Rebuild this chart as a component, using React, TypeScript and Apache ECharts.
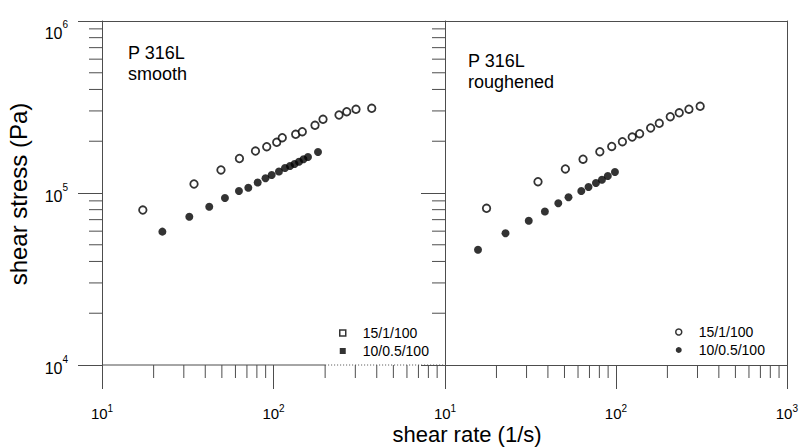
import React, { useEffect, useRef } from 'react';
import * as echarts from 'echarts';

// ---- data (shear rate in 1/s, shear stress in Pa) ----
const smoothOpenX = [17.3, 34.4, 49.4, 63.3, 78.5, 91.3, 104.4, 112.5, 134.7, 147.2, 174.6, 194.4, 241, 267.3, 302.7, 373.9];
const smoothOpenY = [79600, 112800, 136100, 158700, 175400, 185900, 197100, 209700, 219500, 227200, 247500, 268200, 284100, 296900, 306600, 310800];

const smoothFilledX = [22.5, 32.3, 42.2, 52.1, 62.9, 71.3, 80.9, 89.8, 97.6, 107.6, 116.7, 124.8, 132.6, 140.8, 149.6, 158.9, 181.8];
const smoothFilledY = [59600, 72800, 83200, 93500, 102700, 107400, 115100, 121800, 127300, 133400, 139800, 143500, 147400, 152000, 157000, 162000, 173100];

const roughOpenX = [17.5, 35.0, 50.6, 64.2, 80.5, 94.5, 109.1, 124.5, 137.6, 159.6, 179.3, 207.9, 234.6, 267.3, 311];
const roughOpenY = [81500, 116300, 137900, 157200, 173800, 186400, 198700, 211600, 221200, 238800, 254200, 277700, 292600, 307000, 319300];

const roughFilledX = [15.6, 22.6, 30.9, 38.4, 46.0, 52.8, 62.7, 69.1, 76.4, 82.8, 89.6, 98.7];
const roughFilledY = [46800, 58300, 69000, 78100, 87100, 94400, 102700, 108400, 114300, 119500, 125600, 132400];

const seriesNames = ['15/1/100', '10/0.5/100'];
const panelTitles = ['P 316L\nsmooth', 'P 316L\nroughened'];
const xTitle = 'shear rate (1/s)';
const yTitle = 'shear stress (Pa)';

const X_RANGE = [10, 1000];
const Y_RANGE = [1e4, 1e6];
const X_MINOR = [20, 30, 40, 50, 60, 70, 80, 90, 200, 300, 400, 500, 600, 700, 800, 900];
const Y_MINOR = [2e4, 3e4, 4e4, 5e4, 6e4, 7e4, 8e4, 9e4, 2e5, 3e5, 4e5, 5e5, 6e5, 7e5, 8e5, 9e5];
// bottom axis of left panel: [from, to, dotted?]
const LEFT_AXIS_SEGMENTS = [[10, 200, 0], [200, 1000, 1]];

const AXIS = '#4d4d4d';
const FONT = "'Liberation Sans', Arial, Helvetica, sans-serif";

const zip = (xs: number[], ys: number[]) => xs.map((x, i) => [x, ys[i]]);
const exp10 = (v: number) => Math.round(Math.log10(v));
const sup = (v: number) => `{b|10}{s|${exp10(v)}}`;

const richX = {
  b: { fontSize: 15, fontFamily: FONT, color: '#000', verticalAlign: 'bottom', lineHeight: 18 },
  s: { fontSize: 10, fontFamily: FONT, color: '#000', verticalAlign: 'top', lineHeight: 10 },
};
const richY = {
  b: { fontSize: 16, fontFamily: FONT, color: '#000', verticalAlign: 'bottom', lineHeight: 22 },
  s: { fontSize: 10, fontFamily: FONT, color: '#000', verticalAlign: 'top' },
  e: { fontSize: 10, fontFamily: FONT, color: '#000', lineHeight: 18 },
};

export default function App() {
  const ref = useRef<HTMLDivElement>(null);
  useEffect(() => {
    if (!ref.current) return;
    const chart = echarts.init(ref.current, undefined, { renderer: 'svg' });

    const logX = (gridIndex: number, position: string, extra: any) => ({
      type: 'log', logBase: 10, min: X_RANGE[0], max: X_RANGE[1], gridIndex, position,
      splitLine: { show: false }, ...extra,
    });
    const logY = (gridIndex: number, position: string, extra: any) => ({
      type: 'log', logBase: 10, min: Y_RANGE[0], max: Y_RANGE[1], gridIndex, position,
      splitLine: { show: false }, ...extra,
    });
    const lineOnly = { axisLine: { show: true, lineStyle: { color: AXIS, width: 1 } }, axisTick: { show: false }, axisLabel: { show: false } };
    const majorTick = { show: true, length: 24, inside: false, lineStyle: { color: AXIS, width: 1 } };

    const minorX = (xi: number, yi: number) => ({
      type: 'custom', xAxisIndex: xi, yAxisIndex: yi, silent: true, clip: false, z: 1,
      data: X_MINOR.map((v) => [v, Y_RANGE[0]]),
      renderItem: (_p: any, api: any) => {
        const p = api.coord([api.value(0), api.value(1)]);
        return { type: 'line', shape: { x1: p[0], y1: p[1], x2: p[0], y2: p[1] + 13 }, style: { stroke: AXIS, lineWidth: 1 } };
      },
    });
    const minorY = (xi: number, yi: number) => ({
      type: 'custom', xAxisIndex: xi, yAxisIndex: yi, silent: true, clip: false, z: 1,
      data: Y_MINOR.map((v) => [X_RANGE[0], v]),
      renderItem: (_p: any, api: any) => {
        const p = api.coord([api.value(0), api.value(1)]);
        return { type: 'line', shape: { x1: p[0] - 13, y1: p[1], x2: p[0], y2: p[1] }, style: { stroke: AXIS, lineWidth: 1 } };
      },
    });

    const openStyle = { color: '#fff', borderColor: '#000', borderWidth: 1.8 };
    const fillStyle = { color: '#000', borderColor: '#000', borderWidth: 0 };

    const legend = (left: number, top: number, icons: string[]) => ({
      orient: 'vertical', left, top, itemWidth: 6, itemHeight: 6, itemGap: 2, selectedMode: false,
      textStyle: { fontSize: 14, fontFamily: FONT, color: '#000', lineHeight: 16, padding: [0, 0, 0, 12] },
      data: [
        { name: seriesNames[0], icon: icons[0], itemStyle: { color: '#fff', borderColor: '#000', borderWidth: 1.5 } },
        { name: seriesNames[1], icon: icons[1], itemStyle: { color: '#000', borderWidth: 0 } },
      ],
    });

    chart.setOption({
      animation: false,
      backgroundColor: '#fff',
      grid: [
        { left: 102, top: 21, width: 343, height: 344 },
        { left: 445, top: 21, width: 343, height: 344 },
      ],
      xAxis: [
        logX(0, 'bottom', {
          axisLine: { show: false }, axisTick: majorTick,
          axisLabel: { margin: 38, formatter: (v: number) => (v >= 999 ? '' : sup(v)), rich: richX },
        }),
        logX(0, 'top', lineOnly),
        logX(1, 'bottom', {
          axisLine: { show: true, lineStyle: { color: AXIS, width: 1 } }, axisTick: majorTick,
          axisLabel: { margin: 38, formatter: (v: number) => sup(v), rich: richX },
        }),
        logX(1, 'top', lineOnly),
      ],
      yAxis: [
        logY(0, 'left', {
          axisLine: { show: true, lineStyle: { color: AXIS, width: 1 } }, axisTick: majorTick,
          axisLabel: {
            margin: 34, rich: richY,
            formatter: (v: number) => (v >= Y_RANGE[1] * 0.999 ? `{e| }\n${sup(v)}` : sup(v)),
          },
        }),
        logY(1, 'left', {
          axisLine: { show: true, lineStyle: { color: AXIS, width: 1 } }, axisTick: majorTick,
          axisLabel: { show: false },
        }),
        logY(1, 'right', lineOnly),
      ],
      legend: [legend(334, 320, ['rect', 'rect']), legend(670, 319, ['circle', 'circle'])],
      graphic: [
        { type: 'text', left: 128, top: 42, style: { text: panelTitles[0], fontSize: 18, lineHeight: 21, fontFamily: FONT, fill: '#000' } },
        { type: 'text', left: 468, top: 50, style: { text: panelTitles[1], fontSize: 18, lineHeight: 21, fontFamily: FONT, fill: '#000' } },
        { type: 'text', x: 467, y: 434, style: { text: xTitle, fontSize: 22, fontFamily: FONT, fill: '#000', align: 'center', verticalAlign: 'middle' } },
        { type: 'text', x: 18, y: 194, rotation: Math.PI / 2, style: { text: yTitle, fontSize: 24, fontFamily: FONT, fill: '#000', align: 'center', verticalAlign: 'middle' } },
      ],
      series: [
        { type: 'scatter', name: seriesNames[0], xAxisIndex: 0, yAxisIndex: 0, symbol: 'circle', symbolSize: 7.5, itemStyle: openStyle, data: zip(smoothOpenX, smoothOpenY), z: 5 },
        { type: 'scatter', name: seriesNames[1], xAxisIndex: 0, yAxisIndex: 0, symbol: 'circle', symbolSize: 8, itemStyle: fillStyle, data: zip(smoothFilledX, smoothFilledY), z: 5 },
        { type: 'scatter', name: seriesNames[0], xAxisIndex: 2, yAxisIndex: 1, symbol: 'circle', symbolSize: 7.5, itemStyle: openStyle, data: zip(roughOpenX, roughOpenY), z: 5 },
        { type: 'scatter', name: seriesNames[1], xAxisIndex: 2, yAxisIndex: 1, symbol: 'circle', symbolSize: 8, itemStyle: fillStyle, data: zip(roughFilledX, roughFilledY), z: 5 },
        {
          type: 'custom', xAxisIndex: 0, yAxisIndex: 0, silent: true, clip: false, z: 1,
          data: LEFT_AXIS_SEGMENTS,
          renderItem: (_p: any, api: any) => {
            const a = api.coord([api.value(0), Y_RANGE[0]]);
            const b = api.coord([api.value(1), Y_RANGE[0]]);
            return {
              type: 'line', shape: { x1: a[0], y1: a[1], x2: b[0], y2: b[1] },
              style: { stroke: AXIS, lineWidth: 1, lineDash: api.value(2) ? [1, 2] : null },
            };
          },
        },
        minorX(0, 0), minorX(2, 1), minorY(0, 0), minorY(2, 1),
      ],
    });
    return () => chart.dispose();
  }, []);
  return <div ref={ref} style={{ position: 'absolute', left: 0, top: 0, width: 801, height: 447 }} />;
}
